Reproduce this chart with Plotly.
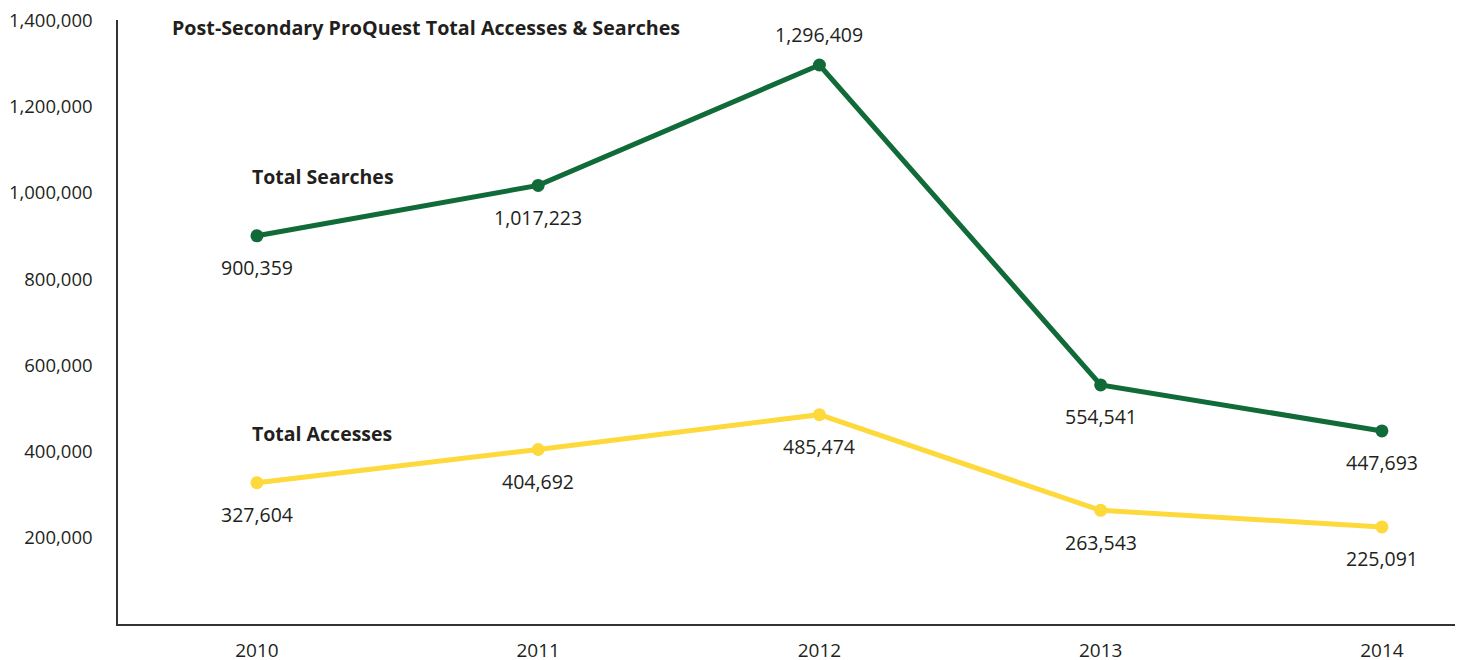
import plotly.graph_objects as go

years = ["2010", "2011", "2012", "2013", "2014"]
searches = [900359, 1017223, 1296409, 554541, 447693]
accesses = [327604, 404692, 485474, 263543, 225091]
search_label_pos = ["below", "below", "above", "below", "below"]
access_label_pos = ["below", "below", "below", "below", "below"]
ytick_vals = [200000, 400000, 600000, 800000, 1000000, 1200000, 1400000]

GREEN = "#116b38"
YELLOW = "#fdd93c"
TEXT = "#231f20"
FONT = "Open Sans"

xs = list(range(len(years)))
fig = go.Figure()
fig.add_trace(go.Scatter(x=xs, y=searches, mode="lines+markers",
                         line=dict(color=GREEN, width=5),
                         marker=dict(color=GREEN, size=13), hoverinfo="skip"))
fig.add_trace(go.Scatter(x=xs, y=accesses, mode="lines+markers",
                         line=dict(color=YELLOW, width=5),
                         marker=dict(color=YELLOW, size=13), hoverinfo="skip"))

annotations = []
for series, pos in ((searches, search_label_pos), (accesses, access_label_pos)):
    for x, v, p in zip(xs, series, pos):
        annotations.append(dict(x=x, y=v, text=f"{v:,}", showarrow=False,
                                yshift=31 if p == "above" else -32,
                                font=dict(family=FONT, size=19.5, color=TEXT)))

annotations.append(dict(xref="paper", yref="paper", x=0.0385, y=1.0, xanchor="left", yanchor="middle",
                        yshift=-7,
                        text="<b>Post-Secondary ProQuest Total Accesses &amp; Searches</b>", showarrow=False,
                        font=dict(family=FONT, size=19.7, color=TEXT)))
annotations.append(dict(x=-0.025, y=1000000, xanchor="left", yanchor="middle", yshift=16,
                        text="<b>Total Searches</b>", showarrow=False,
                        font=dict(family=FONT, size=19.5, color=TEXT)))
annotations.append(dict(x=-0.025, y=400000, xanchor="left", yanchor="middle", yshift=18,
                        text="<b>Total Accesses</b>", showarrow=False,
                        font=dict(family=FONT, size=19.5, color=TEXT)))

fig.update_layout(
    width=1463, height=660,
    margin=dict(l=110, r=14, t=12, b=44),
    paper_bgcolor="white", plot_bgcolor="white",
    showlegend=False,
    annotations=annotations,
    xaxis=dict(range=[-0.494, 4.267], tickmode="array", tickvals=xs, ticktext=years,
               showgrid=False, zeroline=False, showline=True, linecolor="#333333", linewidth=1.5,
               ticks="", ticklabelstandoff=8, tickfont=dict(family=FONT, size=19, color=TEXT),
               automargin=False, fixedrange=True),
    yaxis=dict(range=[0, 1400800], tickmode="array", tickvals=ytick_vals,
               ticktext=[f"{v:,}" for v in ytick_vals],
               showgrid=False, zeroline=False, showline=True, linecolor="#333333", linewidth=1.5,
               ticks="", ticklabelstandoff=20, ticklabeloverflow="allow",
               tickfont=dict(family=FONT, size=18.5, color=TEXT),
               automargin=False, fixedrange=True),
)
fig.write_html("out.html")
